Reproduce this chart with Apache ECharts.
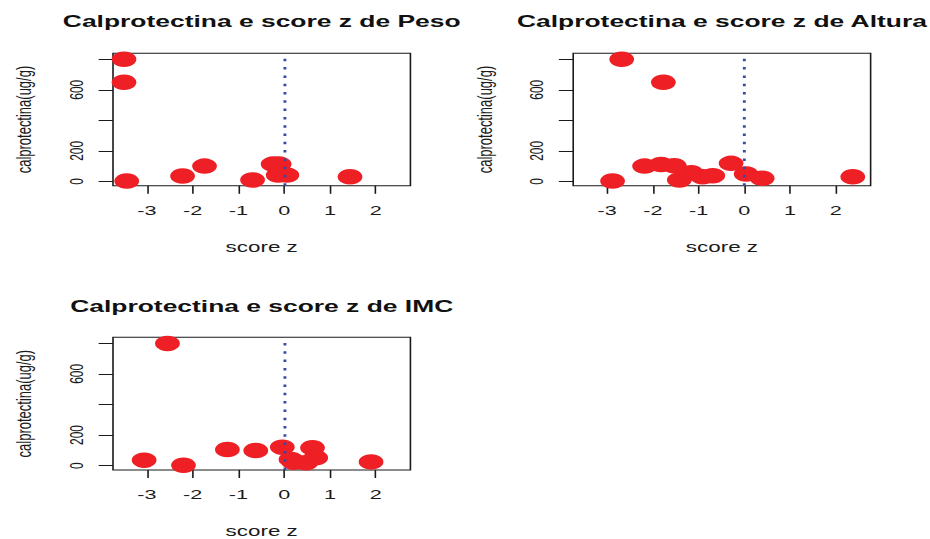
<!DOCTYPE html>
<html>
<head>
<meta charset="utf-8">
<script src="https://cdn.jsdelivr.net/npm/echarts@6/dist/echarts.min.js"></script>
<style>
  html, body { margin: 0; padding: 0; background: #fff; overflow: hidden; }
  #wrap { width: 930px; height: 539px; overflow: hidden; }
  /* the panels are laid out on a narrower canvas and widened horizontally */
  #chart { width: 581px; height: 539px; transform: scaleX(1.6007); transform-origin: 0 0; }
</style>
</head>
<body>
<div id="wrap"><div id="chart"></div></div>
<script>
// score z (x) and calprotectina in ug/g (y) for each panel
const pesoZ   = [-3.50, -3.50, -3.44, -2.22, -1.74, -0.69, -0.24, -0.11, -0.13, 0.06, 1.44];
const pesoCal = [800, 649, 2, 35, 100, 9, 113, 113, 41, 41, 30];

const alturaZ   = [-2.68, -1.77, -2.88, -2.18, -1.82, -1.53, -1.42, -1.16, -0.91, -0.69, -0.29, 0.04, 0.39, 2.37];
const alturaCal = [800, 649, 2, 100, 111, 102, 9, 56, 30, 37, 118, 48, 20, 30];

const imcZ   = [-2.55, -3.92, -3.06, -2.20, -1.24, -0.62, -0.04, 0.62, 0.15, 0.21, 0.47, 0.69, 1.90];
const imcCal = [799, 652, 35, 2, 105, 98, 120, 116, 40, 22, 18, 51, 24];

const panelTitles = [
  'Calprotectina e score z de Peso',
  'Calprotectina e score z de Altura',
  'Calprotectina e score z de IMC'
];
const xTicks = [-3, -2, -1, 0, 1, 2];
const yTicks = [0, 200, 400, 600, 800];
const yTickLabels = [0, 200, 600];
const xRange = [-3.74, 2.76];
const yRange = [-29, 839];
const refLineZ = 0;
const xName = 'score z';
const yName = 'calprotectina(ug/g)';

const panels = [
  { x: pesoZ, y: pesoCal },
  { x: alturaZ, y: alturaCal },
  { x: imcZ, y: imcCal }
];

const grids = [
  { left: 70.6, top: 53.3, width: 185.8, height: 132.5 },
  { left: 358.1, top: 53.3, width: 185.8, height: 132.5 },
  { left: 70.6, top: 337.3, width: 185.8, height: 133.4 }
];

const textColor = '#1a1a1a';
const font = 'Liberation Sans';

const option = {
  animation: false,
  backgroundColor: '#ffffff',
  grid: grids.map(g => Object.assign({
    show: true, borderColor: '#1a1a1a', borderWidth: 1, backgroundColor: 'transparent'
  }, g)),
  xAxis: grids.map((g, i) => ({
    gridIndex: i, type: 'value', min: xRange[0], max: xRange[1], position: 'bottom',
    name: xName, nameLocation: 'middle', nameGap: 54,
    nameTextStyle: { fontFamily: font, fontSize: 14, color: textColor },
    axisLine: { show: false, onZero: false },
    axisTick: { show: true, length: 8, customValues: xTicks, lineStyle: { color: '#1a1a1a', width: 1 } },
    axisLabel: { customValues: xTicks, margin: 18, fontFamily: font, fontSize: 13.5, color: textColor },
    splitLine: { show: false }
  })),
  yAxis: grids.map((g, i) => ({
    gridIndex: i, type: 'value', min: yRange[0], max: yRange[1], position: 'left',
    name: yName, nameLocation: 'middle', nameGap: 49, nameRotate: 90,
    nameTextStyle: { fontFamily: font, fontSize: 13, color: textColor },
    axisLine: { show: false, onZero: false },
    axisTick: { show: true, length: 9, customValues: yTicks, lineStyle: { color: '#1a1a1a', width: 1 } },
    axisLabel: { customValues: yTickLabels, rotate: 90, margin: 17, fontFamily: font, fontSize: 12, color: textColor },
    splitLine: { show: false }
  })),
  graphic: panelTitles.map((t, i) => ({
    type: 'text',
    x: grids[i].left + grids[i].width / 2,
    y: i < 2 ? 21 : 306.5,
    style: {
      text: t, align: 'center', verticalAlign: 'middle',
      font: 'bold 16.5px "Liberation Sans"', fill: '#111111'
    }
  })),
  series: panels.map((p, i) => ({
    type: 'scatter',
    xAxisIndex: i, yAxisIndex: i,
    data: p.x.map((v, k) => [v, p.y[k]]),
    symbol: 'circle',
    symbolSize: 15.5,
    clip: true,
    itemStyle: { color: '#ee1f25', opacity: 1 },
    markLine: {
      silent: true, symbol: 'none', label: { show: false },
      lineStyle: { color: '#3949a8', width: 1.8, type: [2.5, 5.8] },
      data: [{ xAxis: refLineZ }]
    }
  }))
};

const chart = echarts.init(document.getElementById('chart'), null, { renderer: 'svg' });
chart.setOption(option);
</script>
</body>
</html>
